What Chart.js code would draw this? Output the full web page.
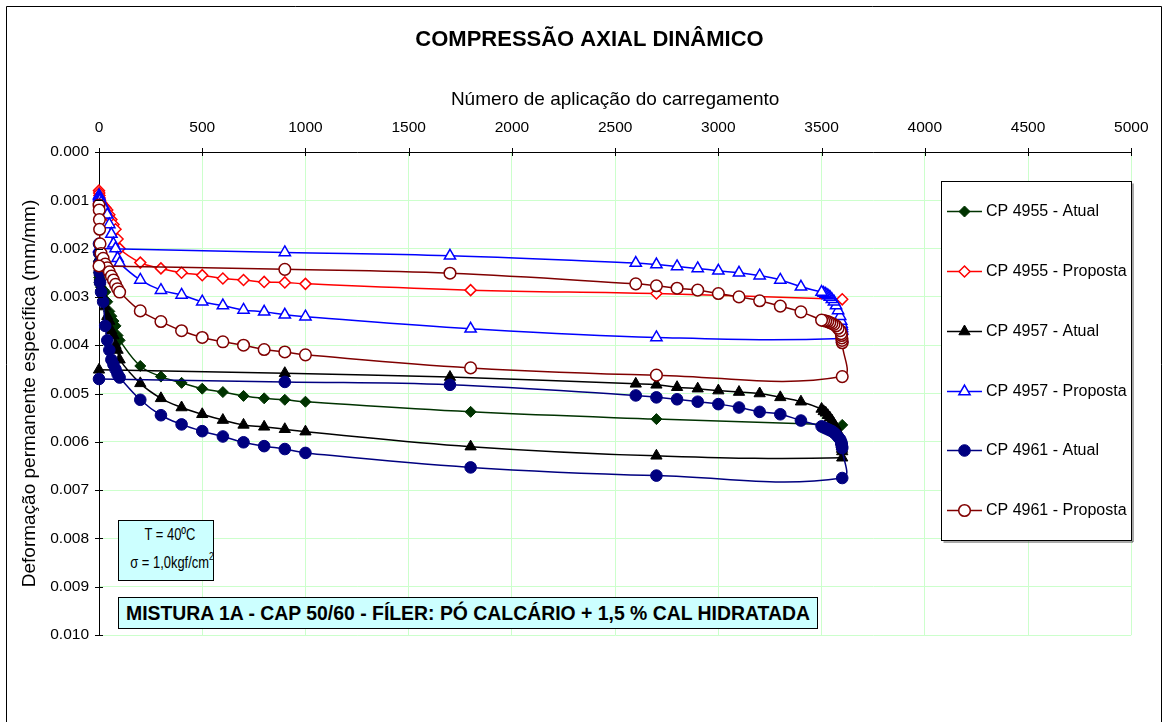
<!DOCTYPE html>
<html><head><meta charset="utf-8">
<script src="https://cdn.jsdelivr.net/npm/chart.js@4.4.1/dist/chart.umd.min.js"></script>
<style>
body{margin:0;background:#fff;}
#wrap{position:relative;width:1163px;height:722px;overflow:hidden;}
canvas{position:absolute;left:0;top:0;}
.box{position:absolute;background:#ccffff;border:1px solid #000;box-sizing:border-box;font-family:"Liberation Sans",Arial,sans-serif;color:#000;text-align:center;white-space:nowrap;}
.ln{position:absolute;left:0;right:0;line-height:20px;font-size:17px;transform:scaleX(0.76);transform-origin:center;}
</style></head><body>
<div id="wrap"><canvas id="c" width="1163" height="722"></canvas>
<div class="box" style="left:118px;top:520px;width:96px;height:61px;">
<div class="ln" style="top:4px;left:8px;">T = 40ºC</div>
<div class="ln" style="top:32px;">σ = 1,0kgf/cm<sup style="font-size:11px;vertical-align:8px;line-height:0">2</sup></div>
</div>
<div class="box" style="left:118px;top:597px;width:700px;height:32px;font-size:19.4px;font-weight:bold;line-height:30px;">MISTURA 1A - CAP 50/60 - FÍLER: PÓ CALCÁRIO + 1,5 % CAL HIDRATADA</div>
</div>
<script>
// ---- data ----
const xLower = [0,1,2,3,5,10,20,30,40,50,60,70,80,90,100,200,300,400,500,600,700,800,900,1000,1800,2700,3600];
const xUpper = [3600,3599,3598,3597,3595,3590,3580,3570,3560,3550,3540,3530,3520,3510,3500,3400,3300,3200,3100,3000,2900,2800,2700,2600,1700,900,0];

const cp4955AtualLower = [0.0025,0.0026,0.00265,0.0027,0.00275,0.0028,0.00285,0.0029,0.0031,0.0033,0.0034,0.0035,0.0036,0.0038,0.0039,0.00443,0.00465,0.00478,0.0049,0.00497,0.00505,0.0051,0.00513,0.00517,0.00538,0.00553,0.00565];

const cp4955PropLower = [0.0008,0.00085,0.0009,0.00095,0.001,0.00105,0.0011,0.00115,0.0012,0.0013,0.0014,0.0015,0.0016,0.0018,0.002,0.00229,0.00241,0.0025,0.00255,0.00262,0.00265,0.00269,0.0027,0.00273,0.00286,0.00293,0.00305];

const cp4957AtualLower = [0.0022,0.0023,0.0024,0.0025,0.0026,0.0028,0.003,0.0032,0.0034,0.0035,0.0037,0.0038,0.004,0.0041,0.0043,0.00479,0.0051,0.00529,0.00543,0.00555,0.00565,0.00569,0.00574,0.00579,0.0061,0.00629,0.00633];
const cp4957AtualUpper = [0.0062,0.00615,0.0061,0.00605,0.006,0.00592,0.0058,0.0057,0.00563,0.00556,0.0055,0.00545,0.0054,0.00537,0.00532,0.00517,0.00508,0.005,0.00497,0.00494,0.0049,0.00487,0.00482,0.0048,0.00466,0.00458,0.00451];

const cp4957PropLower = [0.0009,0.00092,0.00095,0.00098,0.001,0.00105,0.0011,0.0012,0.0013,0.0015,0.0017,0.0019,0.002,0.0022,0.0023,0.00265,0.00286,0.00296,0.0031,0.00318,0.00327,0.00331,0.00337,0.00341,0.00366,0.00384,0.00386];
const cp4957PropUpper = [0.0037,0.00365,0.0036,0.00356,0.0035,0.0034,0.00328,0.00318,0.0031,0.00305,0.003,0.00297,0.00294,0.00292,0.0029,0.00279,0.00265,0.00256,0.0025,0.00246,0.00241,0.00237,0.00233,0.0023,0.00215,0.00208,0.002];

const cp4961AtualLower = [0.0019,0.0021,0.0023,0.0025,0.0027,0.0029,0.0031,0.0036,0.0039,0.0041,0.0043,0.0044,0.0045,0.0046,0.00467,0.00513,0.00545,0.00564,0.00578,0.00589,0.00601,0.00609,0.00615,0.00623,0.00653,0.0067,0.00675];
const cp4961AtualUpper = [0.00613,0.0061,0.00607,0.00604,0.006,0.00595,0.0059,0.00585,0.00581,0.00578,0.00576,0.00574,0.00572,0.0057,0.00568,0.00556,0.00543,0.00538,0.00529,0.00522,0.00517,0.00512,0.00508,0.00504,0.00482,0.00476,0.0047];

const cp4961PropLower = [0.0011,0.0012,0.0014,0.0016,0.0019,0.0021,0.0022,0.00232,0.0024,0.00248,0.00257,0.00265,0.00274,0.00283,0.0029,0.00329,0.00351,0.0037,0.00384,0.00393,0.004,0.00409,0.00414,0.0042,0.00447,0.00462,0.00465];
const cp4961PropUpper = [0.00395,0.0039,0.00385,0.0038,0.00376,0.0037,0.00365,0.0036,0.00357,0.00355,0.00353,0.00351,0.0035,0.00349,0.00348,0.00331,0.00319,0.00308,0.003,0.00293,0.00286,0.00282,0.00277,0.00273,0.00251,0.00243,0.00236];

const seriesNames = ['CP 4955 - Atual','CP 4955 - Proposta','CP 4957 - Atual','CP 4957 - Proposta','CP 4961 - Atual','CP 4961 - Proposta'];
const xTicks = [0,500,1000,1500,2000,2500,3000,3500,4000,4500,5000];
const yTicks = [0.000,0.001,0.002,0.003,0.004,0.005,0.006,0.007,0.008,0.009,0.010];

// ---- build ----
function pts(lower, upper){
  const out = lower.map((y,i)=>({x:xLower[i], y}));
  if (upper) upper.forEach((y,i)=>out.push({x:xUpper[i], y}));
  return out;
}
const styles = [
  {color:'#003300', style:'rectRot', r:5.5, fill:true},
  {color:'#ff0000', style:'rectRot', r:5.5, fill:false},
  {color:'#000000', style:'triangle', r:6.5, fill:true},
  {color:'#0000ff', style:'triangle', r:6.5, fill:false},
  {color:'#000080', style:'circle', r:5.8, fill:true},
  {color:'#800000', style:'circle', r:5.8, fill:false}
];
const seriesData = [
  pts(cp4955AtualLower), pts(cp4955PropLower),
  pts(cp4957AtualLower, cp4957AtualUpper), pts(cp4957PropLower, cp4957PropUpper),
  pts(cp4961AtualLower, cp4961AtualUpper), pts(cp4961PropLower, cp4961PropUpper)
];
const datasets = seriesData.map((d,i)=>({
  label: seriesNames[i], data: d, showLine:true, tension:0.4,
  borderColor: styles[i].color, borderWidth:1.5,
  pointStyle: styles[i].style, pointRadius: styles[i].r,
  pointBackgroundColor: styles[i].fill ? styles[i].color : '#ffffff',
  pointBorderColor: styles[i].color, pointBorderWidth: styles[i].fill ? 1 : 1.5,
  clip: false, order: 5 - i
}));

const FONT = '"Liberation Sans", Arial, sans-serif';
const deco = {
  id:'deco',
  beforeDraw(chart){
    const ctx = chart.ctx;
    ctx.save();
    ctx.fillStyle = '#fff'; ctx.fillRect(0,0,chart.width,chart.height);
    ctx.strokeStyle = '#000'; ctx.lineWidth = 1;
    ctx.beginPath();
    ctx.moveTo(6.5, 730); ctx.lineTo(6.5, 6.5); ctx.lineTo(1161.5, 6.5); ctx.lineTo(1161.5, 730);
    ctx.stroke();
    ctx.fillStyle = '#000';
    ctx.font = 'bold 22px ' + FONT;
    ctx.textAlign = 'center'; ctx.textBaseline = 'middle';
    ctx.fillText('COMPRESSÃO AXIAL DINÂMICO', 589.5, 40);
    ctx.restore();
  },
  afterDraw(chart){
    const ctx = chart.ctx, xs = chart.scales.x, ys = chart.scales.y, a = chart.chartArea;
    ctx.save();
    ctx.strokeStyle = '#000'; ctx.lineWidth = 1;
    ctx.beginPath();
    xTicks.forEach(v=>{ const px = Math.round(xs.getPixelForValue(v))+0.5; ctx.moveTo(px, a.top-4); ctx.lineTo(px, a.top+4); });
    yTicks.forEach(v=>{ const py = Math.round(ys.getPixelForValue(v))+0.5; ctx.moveTo(a.left-4, py); ctx.lineTo(a.left+4, py); });
    ctx.stroke();
    // legend
    const L = 941.5, T = 181.5, W = 190, H = 359;
    ctx.fillStyle = '#fff'; ctx.fillRect(L, T, W, H);
    ctx.strokeStyle = '#000'; ctx.strokeRect(L, T, W, H);
    ctx.strokeStyle = '#555'; ctx.beginPath(); ctx.moveTo(L+W+1.5, T+2); ctx.lineTo(L+W+1.5, T+H+1.5); ctx.lineTo(L+2, T+H+1.5); ctx.stroke();
    const ys0 = [211.5, 271.5, 331.5, 391.5, 450.5, 510.5];
    chart.data.datasets.forEach((ds,i)=>{
      const y = ys0[i];
      ctx.strokeStyle = ds.borderColor; ctx.lineWidth = 1.5;
      ctx.beginPath(); ctx.moveTo(947, y); ctx.lineTo(982, y); ctx.stroke();
      ctx.fillStyle = ds.pointBackgroundColor; ctx.strokeStyle = ds.pointBorderColor; ctx.lineWidth = ds.pointBorderWidth;
      Chart.helpers.drawPoint(ctx, {pointStyle: ds.pointStyle, radius: ds.pointRadius, rotation:0, borderWidth: ds.pointBorderWidth}, 964.5, y);
      ctx.fillStyle = '#000'; ctx.font = '16px ' + FONT; ctx.textAlign = 'left'; ctx.textBaseline = 'middle';
      ctx.fillText(ds.label, 986, y);
    });
    ctx.restore();
  }
};

new Chart(document.getElementById('c'), {
  type: 'scatter',
  data: { datasets },
  options: {
    responsive:false, devicePixelRatio:1, animation:false, events:[],
    layout:{ padding:{ left:0, top:53, right:28, bottom:87 } },
    plugins:{ legend:{display:false}, tooltip:{enabled:false} },
    scales:{
      x:{ type:'linear', position:'top', min:0, max:5000,
        afterFit(s){ s.height = 99; },
        afterBuildTicks(s){ s.ticks = xTicks.map(v=>({value:v})); },
        ticks:{ color:'#000', font:{family:FONT, size:15.5}, padding:14.5, maxRotation:0, autoSkip:false, callback:v=>String(v) },
        grid:{ color:'#ccffcc', lineWidth:1, drawTicks:false },
        border:{ display:true, color:'#000', width:1 },
        title:{ display:true, text:'Número de aplicação do carregamento', color:'#000', font:{family:FONT, size:19}, padding:{top:35.6, bottom:0} }
      },
      y:{ type:'linear', position:'left', reverse:true, min:0, max:0.01,
        afterFit(s){ s.width = 99; },
        afterBuildTicks(s){ s.ticks = yTicks.map(v=>({value:v})); },
        ticks:{ color:'#000', font:{family:FONT, size:15.5}, padding:10, callback:v=>Number(v).toFixed(3), autoSkip:false },
        grid:{ color:'#ccffcc', lineWidth:1, drawTicks:false },
        border:{ display:true, color:'#000', width:1 },
        title:{ display:true, text:'Deformação permanente específica (mm/mm)', color:'#000', font:{family:FONT, size:19}, padding:{top:18.6, bottom:0} }
      }
    }
  },
  plugins:[deco]
});
</script>
</body></html>
